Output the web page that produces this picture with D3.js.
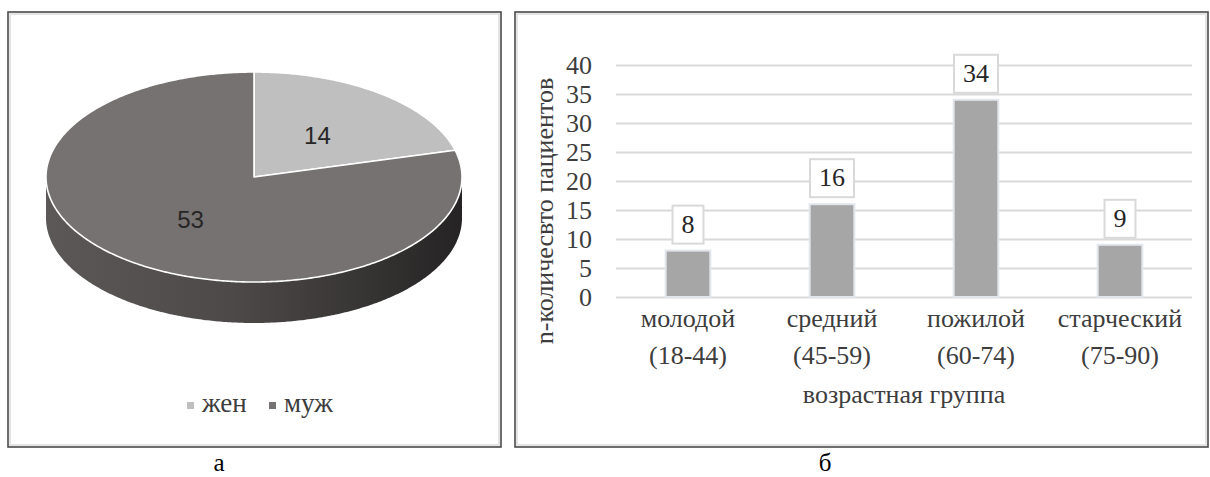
<!DOCTYPE html>
<html><head><meta charset="utf-8">
<script src="https://cdn.jsdelivr.net/npm/d3@7"></script>
<style>body{margin:0;background:#fff} svg{display:block}</style>
</head><body>
<svg id="fig" width="1210" height="477"></svg>
<script>
// Patients by sex (panel а)
const sexLabels = ["жен", "муж"];
const sexValues = [14, 53];
const sexColors = ["#bfbfbf", "#767271"];

// Patients by age group (panel б)
const ageGroups = ["молодой", "средний", "пожилой", "старческий"];
const ageRanges = ["(18-44)", "(45-59)", "(60-74)", "(75-90)"];
const patientCounts = [8, 16, 34, 9];
const yTicks = [0, 5, 10, 15, 20, 25, 30, 35, 40];

const SERIF = '"Liberation Serif"';
const SANS = '"Liberation Sans"';
const textColor = "#3d3d3d";
const svg = d3.select("#fig");

function label(sel, family, size, color) {
  return sel.style("font-family", family).attr("font-size", size).attr("fill", color);
}

// ---------- panel frames ----------
function frame(x0, y0, x1, y1) {
  svg.append("rect").attr("x", x0 + 2).attr("y", y0 + 2)
    .attr("width", x1 - x0 - 4).attr("height", y1 - y0 - 4)
    .attr("fill", "none").attr("stroke", "#e4e4e4").attr("stroke-width", 2);
  svg.append("rect").attr("x", x0).attr("y", y0)
    .attr("width", x1 - x0).attr("height", y1 - y0)
    .attr("fill", "none").attr("stroke", "#4a4a4a").attr("stroke-width", 1.6);
}
frame(8, 12, 501, 447);
frame(515, 12, 1208, 447);

// ---------- 3D pie ----------
const cx = 254, cy = 177, rx = 208, ry = 105, depth = 41;
const arcs = d3.pie().sort(null).value(d => d)(sexValues);
// point on the tilted disc: angle a (0 = top, clockwise), radius fraction f
const P = (a, f = 1, dy = 0) => [cx + rx * f * Math.sin(a), cy - ry * f * Math.cos(a) + dy];
function rim(a0, a1, dy = 0) {
  const n = Math.max(2, Math.ceil(Math.abs(a1 - a0) / 0.01));
  return d3.range(n + 1).map(i => P(a0 + (a1 - a0) * i / n, 1, dy));
}

const defs = svg.append("defs");
const grad = defs.append("linearGradient").attr("id", "sideGrad")
  .attr("gradientUnits", "userSpaceOnUse")
  .attr("x1", cx - rx).attr("x2", cx + rx).attr("y1", 0).attr("y2", 0);
[[0, "#5c5858"], [0.45, "#4d4949"], [0.72, "#3a3737"], [1, "#252323"]]
  .forEach(([o, c]) => grad.append("stop").attr("offset", o).attr("stop-color", c));

const line = d3.line();
// visible side wall (front half of the disc)
arcs.forEach(d => {
  const a0 = Math.max(d.startAngle, Math.PI / 2), a1 = Math.min(d.endAngle, 3 * Math.PI / 2);
  if (a1 <= a0) return;
  const pts = rim(a0, a1).concat(rim(a1, a0, depth));
  svg.append("path").attr("d", line(pts) + "Z").attr("fill", "url(#sideGrad)");
});
// top faces
arcs.forEach((d, i) => {
  const pts = [[cx, cy]].concat(rim(d.startAngle, d.endAngle));
  svg.append("path").attr("d", line(pts) + "Z")
    .attr("fill", sexColors[i]).attr("stroke", "#fff").attr("stroke-width", 1.6)
    .attr("stroke-linejoin", "round");
});
// slice values
arcs.forEach(d => {
  const [lx, ly] = P((d.startAngle + d.endAngle) / 2, 0.5);
  label(svg.append("text"), SANS, 24, "#262626")
    .attr("x", lx).attr("y", ly + 9).attr("text-anchor", "middle").text(d.data);
});
// legend
const legendX = [187, 269];
sexLabels.forEach((s, i) => {
  svg.append("rect").attr("x", legendX[i]).attr("y", 402).attr("width", 7).attr("height", 7)
    .attr("fill", sexColors[i]);
  label(svg.append("text"), SERIF, 27, textColor)
    .attr("x", legendX[i] + 15).attr("y", 412).text(s);
});

// ---------- bar chart ----------
const x = d3.scaleBand().domain(ageGroups).range([616, 1192]).paddingInner(0.69).paddingOuter(0.345);
const y = d3.scaleLinear().domain([0, 40]).range([297, 65]);

const yAxis = svg.append("g").attr("transform", "translate(616,0)")
  .call(d3.axisLeft(y).tickValues(yTicks).tickSize(-576).tickPadding(24));
yAxis.select(".domain").remove();
yAxis.selectAll("line").attr("stroke", "#d9d9d9").attr("stroke-width", 2);
label(yAxis.selectAll("text"), SERIF, 26, textColor).attr("dy", "0.34em");

const bars = svg.append("g");
ageGroups.forEach((g, i) => {
  bars.append("rect").attr("x", x(g)).attr("y", y(patientCounts[i]))
    .attr("width", x.bandwidth()).attr("height", y(0) - y(patientCounts[i]))
    .attr("fill", "#a6a6a6").attr("stroke", "#e1e5ec").attr("stroke-width", 2);
});

// value labels in boxes
ageGroups.forEach((g, i) => {
  const cxb = x(g) + x.bandwidth() / 2;
  const bottom = y(patientCounts[i]) - 7;
  const box = bars.append("rect");
  const t = label(bars.append("text"), SERIF, 26, "#262626")
    .attr("x", cxb).attr("y", bottom - 11).attr("text-anchor", "middle")
    .text(patientCounts[i]);
  const w = t.node().getComputedTextLength() + 18;
  box.attr("x", cxb - w / 2).attr("y", bottom - 38).attr("width", w).attr("height", 38)
    .attr("fill", "#fff").attr("stroke", "#d9d9d9").attr("stroke-width", 2);
});

// category labels
ageGroups.forEach((g, i) => {
  const t = label(svg.append("text"), SERIF, 26, textColor).attr("text-anchor", "middle");
  const cxb = x(g) + x.bandwidth() / 2;
  t.append("tspan").attr("x", cxb).attr("y", 327).text(g);
  t.append("tspan").attr("x", cxb).attr("y", 364).text(ageRanges[i]);
});

// axis titles
label(svg.append("text"), SERIF, 26, textColor)
  .attr("x", 904).attr("y", 403).attr("text-anchor", "middle")
  .text("возрастная группа");
label(svg.append("text"), SERIF, 26, textColor)
  .attr("transform", "translate(553,211) rotate(-90)").attr("text-anchor", "middle")
  .text("n-количесвто пациентов");

// panel letters
label(svg.append("text"), SERIF, 25, "#000")
  .attr("x", 219).attr("y", 471).attr("text-anchor", "middle").text("а");
label(svg.append("text"), SERIF, 25, "#000")
  .attr("x", 825).attr("y", 471).attr("text-anchor", "middle").text("б");
</script>
</body></html>
